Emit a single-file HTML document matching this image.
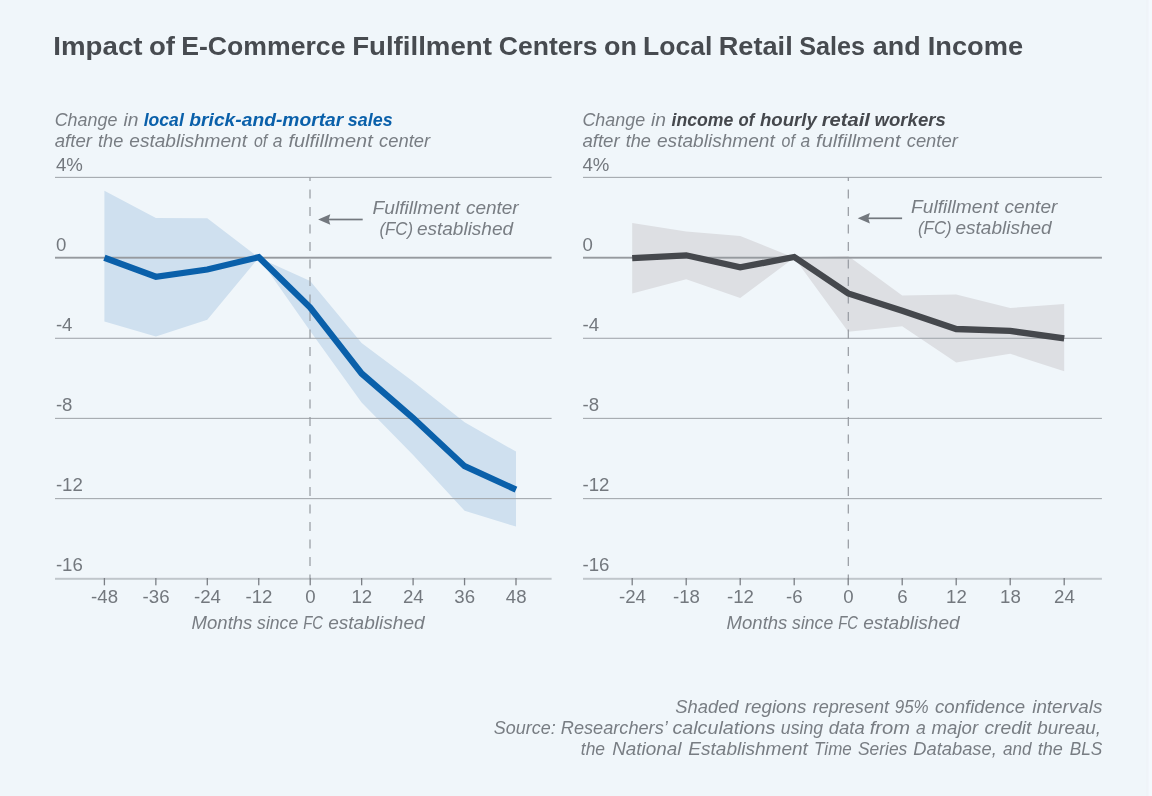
<!DOCTYPE html>
<html lang="en">
<head>
<meta charset="utf-8">
<title>Impact of E-Commerce Fulfillment Centers on Local Retail Sales and Income</title>
<style>
html,body{margin:0;padding:0;background:#f0f6fa;}
body{width:1152px;height:796px;overflow:hidden;}
svg{display:block;}
text{font-family:"Liberation Sans",sans-serif;}
.t{fill:#73787e;font-size:17.5px;}
.i{fill:#787d83;font-size:18.3px;font-style:italic;}
</style>
</head>
<body>
<svg width="1152" height="796" viewBox="0 0 1152 796">
<rect x="0" y="0" width="1152" height="796" fill="#f0f6fa"/>
<rect x="1146" y="0" width="2.7" height="796" fill="#eff4f8"/><rect x="1148.7" y="0" width="3.3" height="796" fill="#f4f9fd"/>

<text y="54.5" font-size="26.2px" font-weight="bold" fill="#474b50"><tspan x="53.30" textLength="89.20" lengthAdjust="spacingAndGlyphs">Impact</tspan> <tspan x="149.00" textLength="26.00" lengthAdjust="spacingAndGlyphs">of</tspan> <tspan x="181.20" textLength="164.30" lengthAdjust="spacingAndGlyphs">E-Commerce</tspan> <tspan x="352.20" textLength="139.70" lengthAdjust="spacingAndGlyphs">Fulfillment</tspan> <tspan x="498.80" textLength="98.80" lengthAdjust="spacingAndGlyphs">Centers</tspan> <tspan x="604.00" textLength="32.90" lengthAdjust="spacingAndGlyphs">on</tspan> <tspan x="643.10" textLength="69.30" lengthAdjust="spacingAndGlyphs">Local</tspan> <tspan x="718.70" textLength="74.00" lengthAdjust="spacingAndGlyphs">Retail</tspan> <tspan x="799.30" textLength="65.80" lengthAdjust="spacingAndGlyphs">Sales</tspan> <tspan x="872.85" textLength="47.75" lengthAdjust="spacingAndGlyphs">and</tspan> <tspan x="927.70" textLength="95.40" lengthAdjust="spacingAndGlyphs">Income</tspan></text>
<polygon points="104.4,190.8 155.9,218.0 207.3,218.2 258.8,257.7 310.2,281.0 361.6,343.0 413.1,381.4 464.6,422.3 516.0,451.6 516.0,526.6 464.6,510.7 413.1,455.0 361.6,402.5 310.2,331.0 258.8,257.7 207.3,319.7 155.9,336.5 104.4,321.6" fill="#cfe0ef"/>
<rect x="55.0" y="176.85" width="496.6" height="1.1" fill="#a4a9af"/>
<rect x="55.0" y="337.75" width="496.6" height="1.1" fill="#a4a9af"/>
<rect x="55.0" y="417.85" width="496.6" height="1.1" fill="#a4a9af"/>
<rect x="55.0" y="498.05" width="496.6" height="1.1" fill="#a4a9af"/>
<rect x="55.0" y="256.75" width="496.6" height="1.9" fill="#969a9f"/>
<rect x="55.0" y="577.8" width="496.6" height="2" fill="#c0c6cb"/>
<line x1="310.0" y1="177.5" x2="310.0" y2="578" stroke="#959aa0" stroke-width="1.2" stroke-dasharray="9 8.5" stroke-dashoffset="5.4"/>
<rect x="103.75" y="578" width="1.3" height="7.3" fill="#7b7f85"/>
<rect x="155.20" y="578" width="1.3" height="7.3" fill="#7b7f85"/>
<rect x="206.65" y="578" width="1.3" height="7.3" fill="#7b7f85"/>
<rect x="258.10" y="578" width="1.3" height="7.3" fill="#7b7f85"/>
<rect x="309.55" y="578" width="1.3" height="7.3" fill="#7b7f85"/>
<rect x="361.00" y="578" width="1.3" height="7.3" fill="#7b7f85"/>
<rect x="412.45" y="578" width="1.3" height="7.3" fill="#7b7f85"/>
<rect x="463.90" y="578" width="1.3" height="7.3" fill="#7b7f85"/>
<rect x="515.35" y="578" width="1.3" height="7.3" fill="#7b7f85"/>
<polyline points="104.4,257.8 155.9,276.8 207.3,269.5 258.8,257.2 310.2,307.5 361.6,373.5 413.1,418.0 464.6,466.2 516.0,489.6" fill="none" stroke="#0a60aa" stroke-width="6.3" stroke-linejoin="miter" stroke-linecap="butt"/>
<text class="t" x="55.9" y="170.5" textLength="26.93" lengthAdjust="spacingAndGlyphs">4%</text>
<text class="t" x="55.9" y="250.6" textLength="10.36" lengthAdjust="spacingAndGlyphs">0</text>
<text class="t" x="55.9" y="330.9" textLength="16.57" lengthAdjust="spacingAndGlyphs">-4</text>
<text class="t" x="55.9" y="411.1" textLength="16.57" lengthAdjust="spacingAndGlyphs">-8</text>
<text class="t" x="55.9" y="491.2" textLength="26.93" lengthAdjust="spacingAndGlyphs">-12</text>
<text class="t" x="55.9" y="571.3" textLength="26.93" lengthAdjust="spacingAndGlyphs">-16</text>
<text class="t" x="91.13" y="602.6" textLength="26.93" lengthAdjust="spacingAndGlyphs">-48</text>
<text class="t" x="142.58" y="602.6" textLength="26.93" lengthAdjust="spacingAndGlyphs">-36</text>
<text class="t" x="194.03" y="602.6" textLength="26.93" lengthAdjust="spacingAndGlyphs">-24</text>
<text class="t" x="245.48" y="602.6" textLength="26.93" lengthAdjust="spacingAndGlyphs">-12</text>
<text class="t" x="305.22" y="602.6" textLength="10.36" lengthAdjust="spacingAndGlyphs">0</text>
<text class="t" x="351.49" y="602.6" textLength="20.72" lengthAdjust="spacingAndGlyphs">12</text>
<text class="t" x="402.94" y="602.6" textLength="20.72" lengthAdjust="spacingAndGlyphs">24</text>
<text class="t" x="454.39" y="602.6" textLength="20.72" lengthAdjust="spacingAndGlyphs">36</text>
<text class="t" x="505.84" y="602.6" textLength="20.72" lengthAdjust="spacingAndGlyphs">48</text>
<text class="i" y="629.2" ><tspan x="191.60" textLength="60.80" lengthAdjust="spacingAndGlyphs">Months</tspan> <tspan x="257.10" textLength="41.10" lengthAdjust="spacingAndGlyphs">since</tspan> <tspan x="303.30" textLength="19.70" lengthAdjust="spacingAndGlyphs">FC</tspan> <tspan x="328.20" textLength="96.40" lengthAdjust="spacingAndGlyphs">established</tspan></text>
<text class="i" y="125.5" ><tspan x="54.70" textLength="62.70" lengthAdjust="spacingAndGlyphs">Change</tspan> <tspan x="123.40" textLength="15.00" lengthAdjust="spacingAndGlyphs">in</tspan></text>
<text class="i" y="125.5" font-weight="bold" style="fill:#0a60aa"><tspan x="143.70" textLength="40.10" lengthAdjust="spacingAndGlyphs">local</tspan> <tspan x="189.30" textLength="154.00" lengthAdjust="spacingAndGlyphs">brick-and-mortar</tspan> <tspan x="347.80" textLength="44.80" lengthAdjust="spacingAndGlyphs">sales</tspan></text>
<text class="i" y="147.0" ><tspan x="54.70" textLength="37.30" lengthAdjust="spacingAndGlyphs">after</tspan> <tspan x="98.00" textLength="25.30" lengthAdjust="spacingAndGlyphs">the</tspan> <tspan x="129.30" textLength="117.70" lengthAdjust="spacingAndGlyphs">establishment</tspan> <tspan x="253.90" textLength="13.30" lengthAdjust="spacingAndGlyphs">of</tspan> <tspan x="272.70" textLength="9.70" lengthAdjust="spacingAndGlyphs">a</tspan> <tspan x="288.40" textLength="84.40" lengthAdjust="spacingAndGlyphs">fulfillment</tspan> <tspan x="379.00" textLength="51.10" lengthAdjust="spacingAndGlyphs">center</tspan></text>
<text class="i" y="214.4" style="font-size:17.7px"><tspan x="372.50" textLength="87.40" lengthAdjust="spacingAndGlyphs">Fulfillment</tspan> <tspan x="465.90" textLength="52.80" lengthAdjust="spacingAndGlyphs">center</tspan></text>
<text class="i" y="234.6" style="font-size:17.7px"><tspan x="379.40" textLength="33.70" lengthAdjust="spacingAndGlyphs">(FC)</tspan> <tspan x="416.90" textLength="96.20" lengthAdjust="spacingAndGlyphs">established</tspan></text>
<rect x="327.1" y="218.65" width="35.6" height="1.7" fill="#73787e"/>
<path d="M318.1,219.5 L330.3,214.3 L328.70000000000005,219.5 L330.3,224.7 Z" fill="#73787e"/>
<polygon points="632.2,222.9 686.2,231.6 740.2,235.9 794.2,257.7 848.2,256.0 902.2,295.4 956.2,294.6 1010.2,308.0 1064.2,304.0 1064.2,371.3 1010.2,353.8 956.2,362.4 902.2,326.3 848.2,331.7 794.2,257.7 740.2,298.0 686.2,279.2 632.2,293.4" fill="#dddfe3"/>
<rect x="583.0" y="176.85" width="518.9000000000001" height="1.1" fill="#a4a9af"/>
<rect x="583.0" y="337.75" width="518.9000000000001" height="1.1" fill="#a4a9af"/>
<rect x="583.0" y="417.85" width="518.9000000000001" height="1.1" fill="#a4a9af"/>
<rect x="583.0" y="498.05" width="518.9000000000001" height="1.1" fill="#a4a9af"/>
<rect x="583.0" y="256.75" width="518.9000000000001" height="1.9" fill="#969a9f"/>
<rect x="583.0" y="577.8" width="518.9000000000001" height="2" fill="#c0c6cb"/>
<line x1="848.3" y1="177.5" x2="848.3" y2="578" stroke="#959aa0" stroke-width="1.2" stroke-dasharray="9 8.5" stroke-dashoffset="5.4"/>
<rect x="631.55" y="578" width="1.3" height="7.3" fill="#7b7f85"/>
<rect x="685.55" y="578" width="1.3" height="7.3" fill="#7b7f85"/>
<rect x="739.55" y="578" width="1.3" height="7.3" fill="#7b7f85"/>
<rect x="793.55" y="578" width="1.3" height="7.3" fill="#7b7f85"/>
<rect x="847.55" y="578" width="1.3" height="7.3" fill="#7b7f85"/>
<rect x="901.55" y="578" width="1.3" height="7.3" fill="#7b7f85"/>
<rect x="955.55" y="578" width="1.3" height="7.3" fill="#7b7f85"/>
<rect x="1009.55" y="578" width="1.3" height="7.3" fill="#7b7f85"/>
<rect x="1063.55" y="578" width="1.3" height="7.3" fill="#7b7f85"/>
<polyline points="632.2,258.2 686.2,255.3 740.2,267.4 794.2,257.0 848.2,293.4 902.2,310.7 956.2,329.0 1010.2,330.9 1064.2,338.4" fill="none" stroke="#45484d" stroke-width="6.3" stroke-linejoin="miter" stroke-linecap="butt"/>
<text class="t" x="582.5" y="170.5" textLength="26.93" lengthAdjust="spacingAndGlyphs">4%</text>
<text class="t" x="582.5" y="250.6" textLength="10.36" lengthAdjust="spacingAndGlyphs">0</text>
<text class="t" x="582.5" y="330.9" textLength="16.57" lengthAdjust="spacingAndGlyphs">-4</text>
<text class="t" x="582.5" y="411.1" textLength="16.57" lengthAdjust="spacingAndGlyphs">-8</text>
<text class="t" x="582.5" y="491.2" textLength="26.93" lengthAdjust="spacingAndGlyphs">-12</text>
<text class="t" x="582.5" y="571.3" textLength="26.93" lengthAdjust="spacingAndGlyphs">-16</text>
<text class="t" x="618.93" y="602.6" textLength="26.93" lengthAdjust="spacingAndGlyphs">-24</text>
<text class="t" x="672.93" y="602.6" textLength="26.93" lengthAdjust="spacingAndGlyphs">-18</text>
<text class="t" x="726.93" y="602.6" textLength="26.93" lengthAdjust="spacingAndGlyphs">-12</text>
<text class="t" x="786.12" y="602.6" textLength="16.57" lengthAdjust="spacingAndGlyphs">-6</text>
<text class="t" x="843.22" y="602.6" textLength="10.36" lengthAdjust="spacingAndGlyphs">0</text>
<text class="t" x="897.22" y="602.6" textLength="10.36" lengthAdjust="spacingAndGlyphs">6</text>
<text class="t" x="946.04" y="602.6" textLength="20.72" lengthAdjust="spacingAndGlyphs">12</text>
<text class="t" x="1000.04" y="602.6" textLength="20.72" lengthAdjust="spacingAndGlyphs">18</text>
<text class="t" x="1054.04" y="602.6" textLength="20.72" lengthAdjust="spacingAndGlyphs">24</text>
<text class="i" y="629.2" ><tspan x="726.60" textLength="60.80" lengthAdjust="spacingAndGlyphs">Months</tspan> <tspan x="792.10" textLength="41.10" lengthAdjust="spacingAndGlyphs">since</tspan> <tspan x="838.30" textLength="19.70" lengthAdjust="spacingAndGlyphs">FC</tspan> <tspan x="863.20" textLength="96.40" lengthAdjust="spacingAndGlyphs">established</tspan></text>
<text class="i" y="125.5" ><tspan x="582.40" textLength="62.70" lengthAdjust="spacingAndGlyphs">Change</tspan> <tspan x="651.10" textLength="15.00" lengthAdjust="spacingAndGlyphs">in</tspan></text>
<text class="i" y="125.5" font-weight="bold" style="fill:#45484d"><tspan x="671.50" textLength="61.90" lengthAdjust="spacingAndGlyphs">income</tspan> <tspan x="738.60" textLength="15.80" lengthAdjust="spacingAndGlyphs">of</tspan> <tspan x="759.90" textLength="56.90" lengthAdjust="spacingAndGlyphs">hourly</tspan> <tspan x="821.70" textLength="48.30" lengthAdjust="spacingAndGlyphs">retail</tspan> <tspan x="874.60" textLength="71.20" lengthAdjust="spacingAndGlyphs">workers</tspan></text>
<text class="i" y="147.0" ><tspan x="582.40" textLength="37.30" lengthAdjust="spacingAndGlyphs">after</tspan> <tspan x="625.70" textLength="25.30" lengthAdjust="spacingAndGlyphs">the</tspan> <tspan x="657.00" textLength="117.70" lengthAdjust="spacingAndGlyphs">establishment</tspan> <tspan x="781.60" textLength="13.30" lengthAdjust="spacingAndGlyphs">of</tspan> <tspan x="800.40" textLength="9.70" lengthAdjust="spacingAndGlyphs">a</tspan> <tspan x="816.10" textLength="84.40" lengthAdjust="spacingAndGlyphs">fulfillment</tspan> <tspan x="906.70" textLength="51.10" lengthAdjust="spacingAndGlyphs">center</tspan></text>
<text class="i" y="213.3" style="font-size:17.7px"><tspan x="911.10" textLength="87.40" lengthAdjust="spacingAndGlyphs">Fulfillment</tspan> <tspan x="1004.50" textLength="52.80" lengthAdjust="spacingAndGlyphs">center</tspan></text>
<text class="i" y="233.5" style="font-size:17.7px"><tspan x="918.00" textLength="33.70" lengthAdjust="spacingAndGlyphs">(FC)</tspan> <tspan x="955.50" textLength="96.20" lengthAdjust="spacingAndGlyphs">established</tspan></text>
<rect x="866.7" y="217.45" width="35.4" height="1.7" fill="#73787e"/>
<path d="M857.7,218.3 L869.9000000000001,213.10000000000002 L868.3000000000001,218.3 L869.9000000000001,223.5 Z" fill="#73787e"/>
<text class="i" y="712.8" ><tspan x="675.20" textLength="63.40" lengthAdjust="spacingAndGlyphs">Shaded</tspan> <tspan x="744.70" textLength="61.80" lengthAdjust="spacingAndGlyphs">regions</tspan> <tspan x="812.70" textLength="76.30" lengthAdjust="spacingAndGlyphs">represent</tspan> <tspan x="894.70" textLength="34.00" lengthAdjust="spacingAndGlyphs">95%</tspan> <tspan x="935.00" textLength="90.10" lengthAdjust="spacingAndGlyphs">confidence</tspan> <tspan x="1032.20" textLength="70.20" lengthAdjust="spacingAndGlyphs">intervals</tspan></text>
<text class="i" y="733.6" ><tspan x="493.80" textLength="61.90" lengthAdjust="spacingAndGlyphs">Source:</tspan> <tspan x="560.80" textLength="106.00" lengthAdjust="spacingAndGlyphs">Researchers’</tspan> <tspan x="672.40" textLength="103.00" lengthAdjust="spacingAndGlyphs">calculations</tspan> <tspan x="780.80" textLength="42.30" lengthAdjust="spacingAndGlyphs">using</tspan> <tspan x="828.80" textLength="36.00" lengthAdjust="spacingAndGlyphs">data</tspan> <tspan x="869.70" textLength="40.40" lengthAdjust="spacingAndGlyphs">from</tspan> <tspan x="916.10" textLength="9.80" lengthAdjust="spacingAndGlyphs">a</tspan> <tspan x="931.60" textLength="46.50" lengthAdjust="spacingAndGlyphs">major</tspan> <tspan x="984.40" textLength="47.10" lengthAdjust="spacingAndGlyphs">credit</tspan> <tspan x="1037.20" textLength="63.90" lengthAdjust="spacingAndGlyphs">bureau,</tspan></text>
<text class="i" y="754.5" ><tspan x="580.80" textLength="24.30" lengthAdjust="spacingAndGlyphs">the</tspan> <tspan x="612.20" textLength="69.30" lengthAdjust="spacingAndGlyphs">National</tspan> <tspan x="688.30" textLength="119.60" lengthAdjust="spacingAndGlyphs">Establishment</tspan> <tspan x="814.10" textLength="37.70" lengthAdjust="spacingAndGlyphs">Time</tspan> <tspan x="858.00" textLength="49.30" lengthAdjust="spacingAndGlyphs">Series</tspan> <tspan x="913.30" textLength="83.50" lengthAdjust="spacingAndGlyphs">Database,</tspan> <tspan x="1003.00" textLength="28.50" lengthAdjust="spacingAndGlyphs">and</tspan> <tspan x="1037.70" textLength="25.20" lengthAdjust="spacingAndGlyphs">the</tspan> <tspan x="1069.70" textLength="32.60" lengthAdjust="spacingAndGlyphs">BLS</tspan></text>
</svg>
</body>
</html>
